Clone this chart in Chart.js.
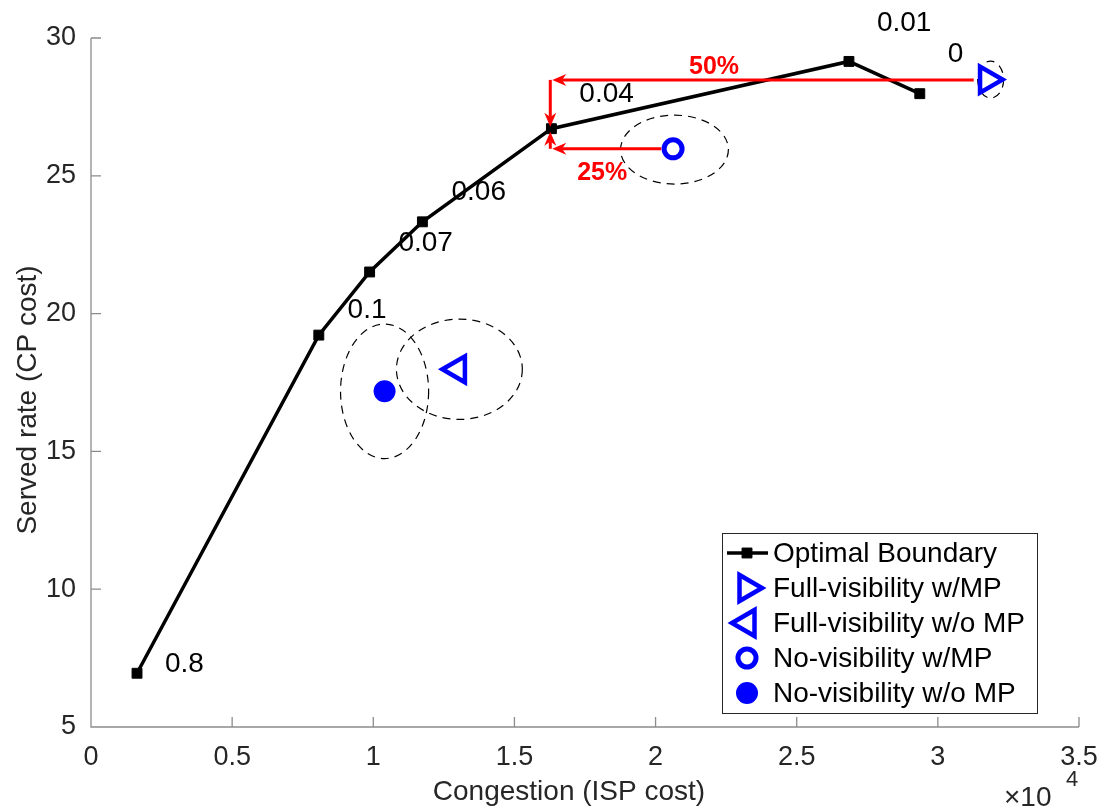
<!DOCTYPE html>
<html>
<head>
<meta charset="utf-8">
<script src="https://cdn.jsdelivr.net/npm/chart.js@4/dist/chart.umd.min.js"></script>
<style>
  html, body { margin: 0; padding: 0; background: #fff; }
  #chart { display: block; }
</style>
</head>
<body>
<canvas id="chart" width="1099" height="810"></canvas>
<script>
// ===== data (x in raw units, shown as x10^4) =====
const boundaryX = [1630, 8070, 9870, 11740, 16310, 26850, 29360];
const boundaryY = [6.95, 19.22, 21.51, 23.33, 26.71, 29.15, 27.98];
const boundaryTags = ['0.8', '0.1', '0.07', '0.06', '0.04', '0.01', '0'];
const tagX = [2620, 9090, 10890, 12770, 17300, 27840, 30350];
const tagY = [7.27, 20.13, 22.56, 24.42, 27.95, 30.53, 29.4];

const fullMpX = [31760];
const fullMpY = [28.49];
const fullNoMpX = [12980];
const fullNoMpY = [17.98];
const noVisMpX = [20620];
const noVisMpY = [25.98];
const noVisNoMpX = [10400];
const noVisNoMpY = [17.18];

const seriesNames = ['Optimal Boundary', 'Full-visibility w/MP', 'Full-visibility w/o MP', 'No-visibility w/MP', 'No-visibility w/o MP'];

// dashed ellipses: centre and half-axes in data units
const ellipseCx = [31870, 13050, 20670, 10400];
const ellipseCy = [28.49, 17.98, 25.95, 17.18];
const ellipseRx = [460, 2230, 1910, 1560];
const ellipseRy = [0.67, 1.82, 1.25, 2.44];

// red arrows (start -> tip) and their labels
const arrowX0 = [31270, 16270, 20200, 16270];
const arrowY0 = [28.48, 28.48, 25.98, 25.98];
const arrowX1 = [16340, 16270, 16340, 16270];
const arrowY1 = [28.48, 26.78, 25.98, 26.6];
const arrowTags = ['50%', '25%'];
const arrowTagX = [22070, 18110];
const arrowTagY = [28.93, 25.11];

const xTicks = [0, 5000, 10000, 15000, 20000, 25000, 30000, 35000];
const yTicks = [5, 10, 15, 20, 25, 30];

const FONT = "'Liberation Sans', Arial, Helvetica, sans-serif";
const BLUE = '#0000ff';

function pts(xs, ys) {
  return xs.map((v, i) => ({ x: v, y: ys[i] }));
}

function drawArrow(ctx, x0, y0, x1, y1) {
  const dx = x1 - x0, dy = y1 - y0;
  const len = Math.hypot(dx, dy);
  const ux = dx / len, uy = dy / len;
  const L = 14, W = 6;
  ctx.beginPath();
  ctx.moveTo(x0, y0);
  ctx.lineTo(x1 - ux * L * 0.7, y1 - uy * L * 0.7);
  ctx.stroke();
  ctx.beginPath();
  ctx.moveTo(x1, y1);
  ctx.lineTo(x1 - ux * L - uy * W, y1 - uy * L + ux * W);
  ctx.lineTo(x1 - ux * L * 0.7, y1 - uy * L * 0.7);
  ctx.lineTo(x1 - ux * L + uy * W, y1 - uy * L - ux * W);
  ctx.closePath();
  ctx.fill();
}

const decor = {
  id: 'decor',
  beforeDatasetsDraw(chart) {
    const { ctx, scales: { x, y } } = chart;
    ctx.save();
    ctx.strokeStyle = '#000';
    ctx.lineWidth = 1.2;
    ctx.setLineDash([8, 6]);
    for (let i = 0; i < ellipseCx.length; i++) {
      const cx = x.getPixelForValue(ellipseCx[i]);
      const cy = y.getPixelForValue(ellipseCy[i]);
      const rx = x.getPixelForValue(ellipseCx[i] + ellipseRx[i]) - cx;
      const ry = cy - y.getPixelForValue(ellipseCy[i] + ellipseRy[i]);
      ctx.beginPath();
      ctx.ellipse(cx, cy, rx, ry, 0, 0, Math.PI * 2);
      ctx.stroke();
    }
    ctx.restore();
  },
  afterDatasetsDraw(chart) {
    const { ctx, scales: { x, y } } = chart;
    ctx.save();
    // arrows
    ctx.strokeStyle = '#ff0000';
    ctx.fillStyle = '#ff0000';
    ctx.lineWidth = 3;
    for (let i = 0; i < arrowX0.length; i++) {
      drawArrow(ctx,
        x.getPixelForValue(arrowX0[i]), y.getPixelForValue(arrowY0[i]),
        x.getPixelForValue(arrowX1[i]), y.getPixelForValue(arrowY1[i]));
    }
    ctx.font = 'bold 25px ' + FONT;
    ctx.textAlign = 'center';
    ctx.textBaseline = 'middle';
    arrowTags.forEach((t, i) => {
      ctx.fillText(t, x.getPixelForValue(arrowTagX[i]), y.getPixelForValue(arrowTagY[i]));
    });
    // boundary tags
    ctx.fillStyle = '#000';
    ctx.font = '28px ' + FONT;
    ctx.textAlign = 'left';
    boundaryTags.forEach((t, i) => {
      ctx.fillText(t, x.getPixelForValue(tagX[i]), y.getPixelForValue(tagY[i]));
    });
    ctx.restore();
  },
  afterDraw(chart) {
    const { ctx, chartArea: a, scales: { x, y } } = chart;
    ctx.save();
    // axes with inward ticks
    ctx.strokeStyle = '#8c8c8c';
    ctx.lineWidth = 1.3;
    ctx.beginPath();
    ctx.moveTo(a.left, a.top);
    ctx.lineTo(a.left, a.bottom);
    ctx.lineTo(a.right, a.bottom);
    xTicks.forEach(v => {
      const px = x.getPixelForValue(v);
      ctx.moveTo(px, a.bottom);
      ctx.lineTo(px, a.bottom - 10);
    });
    yTicks.forEach(v => {
      const py = y.getPixelForValue(v);
      ctx.moveTo(a.left, py);
      ctx.lineTo(a.left + 10, py);
    });
    ctx.stroke();

    // axis titles
    ctx.fillStyle = '#262626';
    ctx.font = '28px ' + FONT;
    ctx.textAlign = 'center';
    ctx.textBaseline = 'middle';
    ctx.fillText('Congestion (ISP cost)', 569, 792);
    ctx.save();
    ctx.translate(28, 400);
    ctx.rotate(-Math.PI / 2);
    ctx.fillText('Served rate (CP cost)', 0, 0);
    ctx.restore();
    ctx.textAlign = 'left';
    ctx.textBaseline = 'alphabetic';
    ctx.fillText('\u00d710', 1004, 806);
    ctx.font = '22px ' + FONT;
    ctx.fillText('4', 1066, 786);

    // legend
    const left = a.right - 357, top = a.bottom - 194, w = 315, h = 180;
    ctx.fillStyle = '#fff';
    ctx.fillRect(left, top, w, h);
    ctx.strokeStyle = '#262626';
    ctx.lineWidth = 1;
    ctx.strokeRect(left + 0.5, top + 0.5, w, h);
    chart.data.datasets.forEach((ds, i) => {
      const cy = top + 20 + i * 35;
      const mx = left + 25;
      if (ds.showLine) {
        ctx.strokeStyle = ds.borderColor;
        ctx.lineWidth = ds.borderWidth;
        ctx.beginPath();
        ctx.moveTo(left + 5, cy);
        ctx.lineTo(left + 46, cy);
        ctx.stroke();
      }
      ctx.fillStyle = ds.pointBackgroundColor;
      ctx.strokeStyle = ds.pointBorderColor;
      ctx.lineWidth = ds.pointBorderWidth;
      Chart.helpers.drawPoint(ctx, {
        pointStyle: ds.pointStyle,
        radius: ds.pointRadius,
        rotation: ds.pointRotation || 0,
        borderWidth: ds.pointBorderWidth
      }, mx, cy);
      ctx.fillStyle = '#000';
      ctx.font = '28px ' + FONT;
      ctx.textAlign = 'left';
      ctx.textBaseline = 'middle';
      ctx.fillText(ds.label, left + 51, cy + 1);
    });
    ctx.restore();
  }
};

const marker = (label, data, style, radius, rot, fill) => ({
  label,
  data,
  showLine: false,
  pointStyle: style,
  pointRadius: radius,
  pointHoverRadius: radius,
  pointRotation: rot,
  pointBorderWidth: 4.5,
  pointBorderColor: BLUE,
  pointBackgroundColor: fill,
  borderColor: BLUE,
  borderWidth: 4
});

new Chart(document.getElementById('chart'), {
  type: 'scatter',
  data: {
    datasets: [
      {
        label: seriesNames[0],
        data: pts(boundaryX, boundaryY),
        showLine: true,
        borderColor: '#000',
        borderWidth: 3.5,
        pointStyle: 'rect',
        pointRadius: 7,
        pointHoverRadius: 7,
        pointBorderWidth: 1,
        pointBorderColor: '#000',
        pointBackgroundColor: '#000'
      },
      marker(seriesNames[1], pts(fullMpX, fullMpY), 'triangle', 15, 90, 'rgba(0,0,0,0)'),
      marker(seriesNames[2], pts(fullNoMpX, fullNoMpY), 'triangle', 15, -90, 'rgba(0,0,0,0)'),
      Object.assign(marker(seriesNames[3], pts(noVisMpX, noVisMpY), 'circle', 9, 0, 'rgba(0,0,0,0)'), { pointBorderWidth: 5 }),
      Object.assign(marker(seriesNames[4], pts(noVisNoMpX, noVisNoMpY), 'circle', 11, 0, BLUE), { pointBorderWidth: 0 })
    ]
  },
  options: {
    responsive: false,
    animation: false,
    devicePixelRatio: 1,
    layout: { padding: { top: 38, right: 20, left: 0, bottom: 0 } },
    scales: {
      x: {
        type: 'linear',
        min: 0,
        max: 35000,
        afterFit: (s) => { s.height = 83; s.paddingLeft = 0; s.paddingRight = 0; },
        afterBuildTicks: (s) => { s.ticks = xTicks.map(v => ({ value: v })); },
        grid: { display: false, drawTicks: false },
        border: { display: false },
        ticks: {
          padding: 14,
          color: '#262626',
          font: { family: FONT, size: 27 },
          maxRotation: 0,
          callback: (v) => String(v / 10000)
        }
      },
      y: {
        type: 'linear',
        min: 5,
        max: 30,
        afterFit: (s) => { s.width = 91; s.paddingTop = 0; s.paddingBottom = 0; },
        afterBuildTicks: (s) => { s.ticks = yTicks.map(v => ({ value: v })); },
        grid: { display: false, drawTicks: false },
        border: { display: false },
        ticks: {
          padding: 15,
          color: '#262626',
          font: { family: FONT, size: 27 },
          callback: (v) => String(v)
        }
      }
    },
    plugins: {
      legend: { display: false },
      tooltip: { enabled: false }
    }
  },
  plugins: [decor]
});
</script>
</body>
</html>
